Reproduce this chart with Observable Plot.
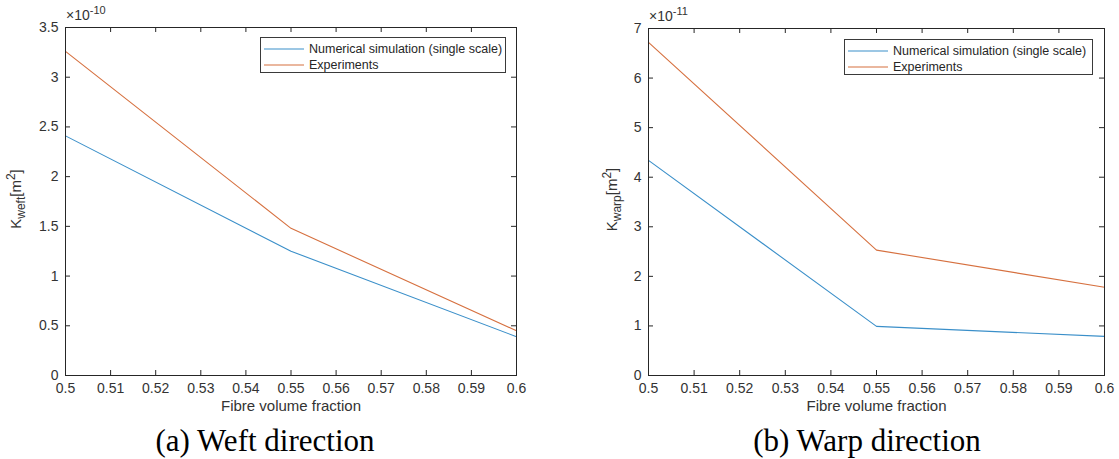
<!DOCTYPE html>
<html>
<head>
<meta charset="utf-8">
<script src="https://cdn.jsdelivr.net/npm/d3@7"></script>
<script src="https://cdn.jsdelivr.net/npm/@observablehq/plot@0.6"></script>
<style>
  body { margin: 0; background: #fff; width: 1119px; height: 459px; position: relative; overflow: hidden;
         font-family: "Liberation Sans", Arial, sans-serif; }
  .panel { position: absolute; top: 0; }
  .caption { position: absolute; top: 425px; font-family: "Liberation Serif", "Times New Roman", serif;
             font-size: 31px; line-height: 31px; color: #000; white-space: nowrap; transform: translateX(-50%); }
  .legend { position: absolute; box-sizing: border-box; height: 36px; border: 1px solid #3a3a3a; background: #fff;
            padding-top: 3px; font-size: 12.5px; color: #262626; }
  .legend .row { display: flex; align-items: center; height: 16px; }
  .legend svg.sw { display: block; margin-left: 3px; margin-right: 5px; }
</style>
</head>
<body>
<div id="panelA" class="panel" style="left:0px"></div>
<div id="panelB" class="panel" style="left:560px"></div>
<div class="caption" style="left:265px">(a) Weft direction</div>
<div class="caption" style="left:867px">(b) Warp direction</div>
<script>
// ---- data (values in units of the axis multiplier) ----
const fibreFraction = [0.5, 0.55, 0.6];
const weftNumerical = [2.41, 1.25, 0.39];     // ×10^-10 m^2
const weftExperiments = [3.26, 1.48, 0.45];   // ×10^-10 m^2
const warpNumerical = [4.34, 0.99, 0.79];     // ×10^-11 m^2
const warpExperiments = [6.72, 2.53, 1.78];   // ×10^-11 m^2
const seriesNames = ["Numerical simulation (single scale)", "Experiments"];
const seriesColors = ["#3a8fc9", "#d6703f"];
const xTicks = [0.5, 0.51, 0.52, 0.53, 0.54, 0.55, 0.56, 0.57, 0.58, 0.59, 0.6];
const weftTicks = [0, 0.5, 1, 1.5, 2, 2.5, 3, 3.5];
const warpTicks = [0, 1, 2, 3, 4, 5, 6, 7];
const xLabel = "Fibre volume fraction";

function makePanel(cfg) {
  const {el, width, height, mL, mR, mT, mB, yTicks, yDomain, num, exp, sub, expo, ylabX, legend} = cfg;
  const innerH = height - mT - mB;
  const innerW = width - mL - mR;
  const rows = [
    ...fibreFraction.map((x, i) => ({x, y: num[i], s: seriesNames[0]})),
    ...fibreFraction.map((x, i) => ({x, y: exp[i], s: seriesNames[1]}))
  ];
  const axisColor = "#262626";
  const chart = Plot.plot({
    width, height, marginLeft: mL, marginRight: mR, marginTop: mT, marginBottom: mB,
    style: {fontFamily: "'Liberation Sans', Arial, sans-serif", fontSize: "14px", color: "#333", background: "#fff", overflow: "visible"},
    x: {domain: [0.5, 0.6], label: null},
    y: {domain: yDomain, label: null},
    color: {domain: seriesNames, range: seriesColors},
    marks: [
      Plot.tickX(xTicks, {x: d => d, insetTop: innerH - 5, stroke: axisColor, strokeWidth: 1}),
      Plot.tickX(xTicks, {x: d => d, insetBottom: innerH - 5, stroke: axisColor, strokeWidth: 1}),
      Plot.tickY(yTicks, {y: d => d, insetRight: innerW - 5, stroke: axisColor, strokeWidth: 1}),
      Plot.tickY(yTicks, {y: d => d, insetLeft: innerW - 5, stroke: axisColor, strokeWidth: 1}),
      Plot.axisX(xTicks, {tickSize: 0, tickPadding: 8, fontSize: 14, fill: "#333", tickFormat: d => String(d), label: null}),
      Plot.axisY(yTicks, {tickSize: 0, tickPadding: 7, fontSize: 14, fill: "#333", tickFormat: d => String(d), label: null}),
      Plot.line(rows, {x: "x", y: "y", z: "s", stroke: "s", strokeWidth: 1.1}),
      Plot.frame({stroke: axisColor, strokeWidth: 1}),
      Plot.text([xLabel], {frameAnchor: "bottom", dy: 35, fontSize: 15, fill: "#333"})
    ]
  });
  const svg = d3.select(chart);
  // y label with subscript / superscript
  const yl = svg.append("text")
    .attr("transform", `translate(${ylabX},${mT + innerH / 2 - 2}) rotate(-90)`)
    .attr("text-anchor", "middle")
    .attr("fill", "#333")
    .attr("font-size", 15);
  yl.append("tspan").text("K");
  yl.append("tspan").attr("dy", 4).attr("font-size", 12).text(sub);
  yl.append("tspan").attr("dy", -4).text("[m");
  yl.append("tspan").attr("dy", -6).attr("font-size", 12).text("2");
  yl.append("tspan").attr("dy", 6).text("]");
  // exponent multiplier
  const ex = svg.append("text")
    .attr("x", mL + 1).attr("y", mT - 7)
    .attr("text-anchor", "start")
    .attr("fill", "#333").attr("font-size", 14);
  ex.append("tspan").text("×10");
  ex.append("tspan").attr("dy", -6).attr("font-size", 11).text(expo);
  document.getElementById(el).appendChild(chart);

  // legend (HTML with small svg swatches)
  const lg = d3.select("#" + el).append("div")
    .attr("class", "legend")
    .style("left", legend.left + "px")
    .style("top", legend.top + "px")
    .style("width", legend.width + "px");
  seriesNames.forEach((name, i) => {
    const r = lg.append("div").attr("class", "row");
    const sw = r.append("svg").attr("class", "sw").attr("width", 40).attr("height", 4);
    sw.append("line").attr("x1", 0).attr("x2", 40).attr("y1", 2).attr("y2", 2)
      .attr("stroke", seriesColors[i]).attr("stroke-width", 1.1);
    r.append("span").text(name);
  });
}

makePanel({el: "panelA", width: 560, height: 418, mL: 65, mR: 44, mT: 27, mB: 43,
  yTicks: weftTicks, yDomain: [0, 3.5], num: weftNumerical, exp: weftExperiments,
  sub: "weft", expo: "-10", ylabX: 21, legend: {left: 260, top: 37, width: 246}});
makePanel({el: "panelB", width: 559, height: 418, mL: 88, mR: 15, mT: 28, mB: 43,
  yTicks: warpTicks, yDomain: [0, 7], num: warpNumerical, exp: warpExperiments,
  sub: "warp", expo: "-11", ylabX: 57, legend: {left: 284, top: 39, width: 249}});
</script>
</body>
</html>
